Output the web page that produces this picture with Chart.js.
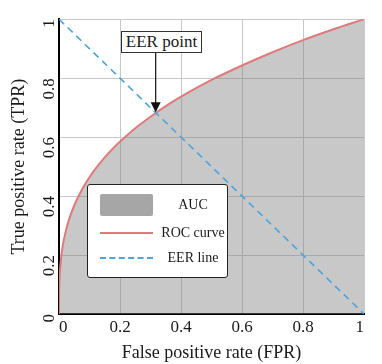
<!DOCTYPE html>
<html>
<head>
<meta charset="utf-8">
<script src="https://cdn.jsdelivr.net/npm/chart.js@4/dist/chart.umd.min.js"></script>
<style>
    body { margin: 0; background: #fff; }
    #wrap { position: relative; width: 382px; height: 364px; }
    .serif { font-family: 'Liberation Serif', 'DejaVu Serif', serif; color: #1a1a1a; }
    #legend { position: absolute; left: 87px; top: 184px; width: 139px; height: 92px; border: 1px solid #222; border-radius: 3px; background: #fff; font-size: 14px; }
    #legend .sw { position: absolute; left: 12px; width: 53px; }
    #legend .txt { position: absolute; left: 70px; width: 70px; text-align: center; line-height: 16px; }
    #eerLabel { position: absolute; left: 121px; top: 31px; width: 79px; height: 20px; border: 1px solid #333; background: #fff; font-family: 'Liberation Serif', serif; font-size: 17px; line-height: 20px; text-align: center; }
</style>
</head>
<body>
<div id="wrap">
    <canvas id="rocChart" width="382" height="364"></canvas>
    <div id="eerLabel" class="serif">EER point</div>
    <div id="legend" class="serif">
        <div class="sw" style="top:9px;height:22px;background:#a6a6a6;border-radius:2px;"></div>
        <div class="txt" style="top:12px;">AUC</div>
        <div class="sw" style="top:47px;height:0;border-top:2px solid #e07a7a;"></div>
        <div class="txt" style="top:40px;">ROC curve</div>
        <div class="sw" style="top:72px;height:0;border-top:2px dashed #4fa3dc;"></div>
        <div class="txt" style="top:65px;">EER line</div>
    </div>
</div>
<script>
// values
const fpr = [0, 0.0005, 0.001, 0.002, 0.005, 0.01, 0.015, 0.02, 0.03, 0.04, 0.05, 0.06, 0.08, 0.1, 0.12, 0.15, 0.18, 0.21, 0.25, 0.3, 0.35, 0.4, 0.5, 0.6, 0.7, 0.8, 0.9, 1];
const tpr = [0, 0.08, 0.1, 0.126, 0.171, 0.215, 0.247, 0.271, 0.311, 0.342, 0.368, 0.391, 0.431, 0.464, 0.493, 0.531, 0.565, 0.594, 0.63, 0.669, 0.705, 0.737, 0.794, 0.843, 0.888, 0.929, 0.966, 1];
const eerLine = [[0, 1], [1, 0]];
const eerPoint = [0.317, 0.684];
const tickValues = [0, 0.2, 0.4, 0.6, 0.8, 1];

const serif = "'Liberation Serif', 'DejaVu Serif', serif";

// arrow from the label box down to the EER point
const arrowPlugin = {
    id: 'eerArrow',
    afterDatasetsDraw(chart) {
        const { ctx, scales } = chart;
        const x = scales.x.getPixelForValue(eerPoint[0]);
        const y = scales.y.getPixelForValue(eerPoint[1]);
        ctx.save();
        ctx.strokeStyle = '#111';
        ctx.fillStyle = '#111';
        ctx.lineWidth = 1.2;
        ctx.beginPath();
        ctx.moveTo(x, 52);
        ctx.lineTo(x, y - 8);
        ctx.stroke();
        ctx.beginPath();
        ctx.moveTo(x - 5, y - 10);
        ctx.lineTo(x + 5, y - 10);
        ctx.lineTo(x, y);
        ctx.closePath();
        ctx.fill();
        ctx.restore();
    }
};

function makeChart() {
    const ctx = document.getElementById('rocChart').getContext('2d');
    return new Chart(ctx, {
        type: 'scatter',
        data: {
            datasets: [
                {
                    label: 'EER line',
                    data: eerLine.map(p => ({ x: p[0], y: p[1] })),
                    showLine: true,
                    borderColor: '#4fa3dc',
                    borderWidth: 1.6,
                    borderDash: [7, 5],
                    pointRadius: 0,
                    fill: false,
                    order: 0
                },
                {
                    label: 'ROC curve',
                    data: fpr.map((v, i) => ({ x: v, y: tpr[i] })),
                    showLine: true,
                    borderColor: '#e07a7a',
                    backgroundColor: 'rgba(124, 124, 124, 0.42)',
                    borderWidth: 2,
                    pointRadius: 0,
                    cubicInterpolationMode: 'monotone',
                    fill: 'origin',
                    order: 1
                }
            ]
        },
        options: {
            responsive: false,
            animation: false,
            layout: { padding: { top: 9, right: 18, left: 0, bottom: 0 } },
            plugins: {
                legend: { display: false },
                tooltip: { enabled: false }
            },
            scales: {
                x: {
                    type: 'linear',
                    min: 0,
                    max: 1,
                    afterBuildTicks: s => { s.ticks = tickValues.map(v => ({ value: v })); },
                    afterFit: s => { s.height = 50; },
                    grid: { color: '#c8c8c8', lineWidth: 1, drawTicks: false },
                    border: { color: '#000', width: 2 },
                    ticks: {
                        color: '#1a1a1a',
                        font: { family: serif, size: 17 },
                        padding: 3,
                        maxRotation: 0,
                        align: 'inner',
                        callback: v => String(v)
                    },
                    title: {
                        display: true,
                        text: 'False positive rate (FPR)',
                        color: '#1a1a1a',
                        font: { family: serif, size: 18 },
                        padding: { top: 2, bottom: 0 }
                    }
                },
                y: {
                    type: 'linear',
                    min: 0,
                    max: 1,
                    afterBuildTicks: s => { s.ticks = tickValues.map(v => ({ value: v })); },
                    afterFit: s => { s.width = 59; },
                    grid: { color: '#c8c8c8', lineWidth: 1, drawTicks: false },
                    border: { color: '#000', width: 2 },
                    ticks: {
                        color: '#1a1a1a',
                        font: { family: serif, size: 17 },
                        padding: 9,
                        minRotation: 90,
                        maxRotation: 90,
                        align: 'inner',
                        callback: v => String(v)
                    },
                    title: {
                        display: true,
                        text: 'True positive rate (TPR)',
                        color: '#1a1a1a',
                        font: { family: serif, size: 18 },
                        padding: { top: 8, bottom: 2 }
                    }
                }
            }
        },
        plugins: [arrowPlugin]
    });
}

makeChart();
</script>
</body>
</html>
